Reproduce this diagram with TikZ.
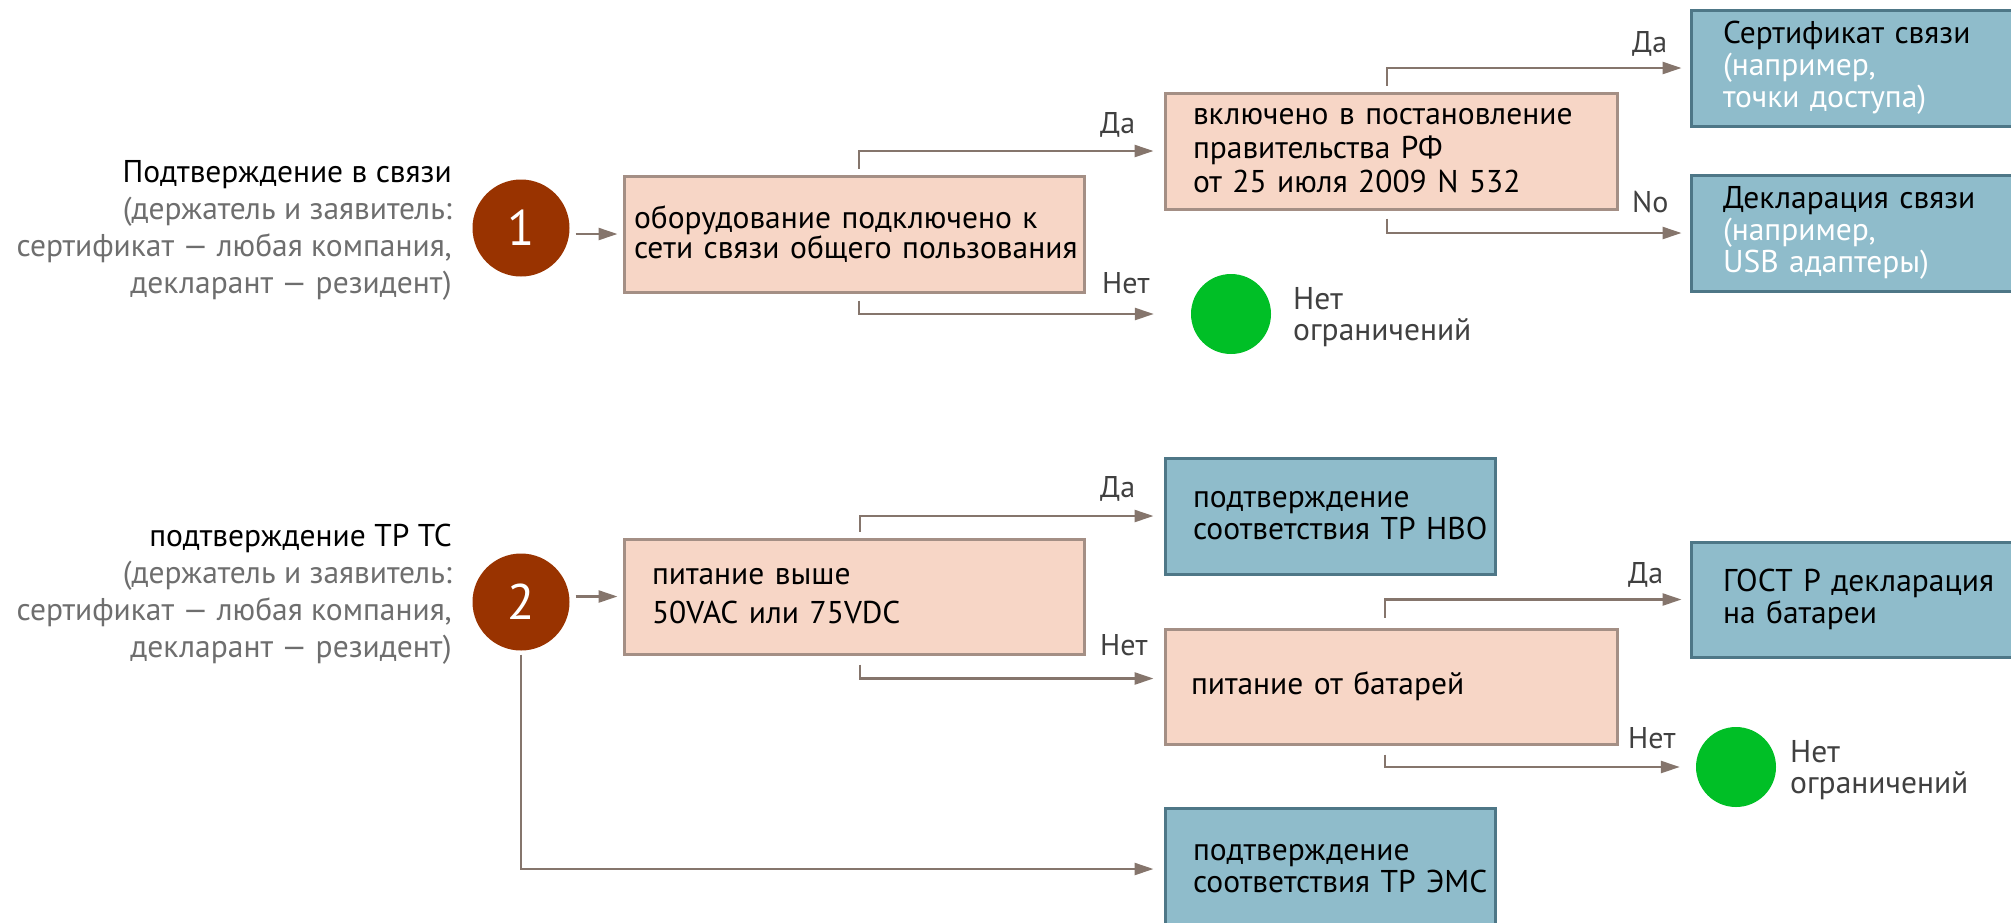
\documentclass[tikz,border=0pt]{standalone}
\usepackage{fontspec}
\setmainfont{PT Sans}
\usepackage{tikz}
\usetikzlibrary{arrows.meta,positioning}
\definecolor{boxfill}{HTML}{F7D6C6}
\definecolor{boxline}{HTML}{A48F85}
\definecolor{bluefill}{HTML}{8FBCCB}
\definecolor{blueline}{HTML}{4E7787}
\definecolor{darkred}{HTML}{993300}
\definecolor{okgreen}{HTML}{00BF26}
\definecolor{arrowgray}{HTML}{85756C}
\definecolor{notegray}{HTML}{6E6E6E}
\definecolor{labelgray}{HTML}{404040}

\begin{document}
\begin{tikzpicture}[
  x=1pt, y=-1pt,
  every node/.style={inner sep=0pt},
  note/.style={anchor=east, align=right, text=notegray, font=\fontsize{31.5}{37}\selectfont},
  num/.style={circle, fill=darkred, minimum size=97pt, text=white, font=\fontsize{50}{50}\selectfont},
  ok/.style={circle, fill=okgreen, minimum size=80pt},
  okcap/.style={anchor=west, align=left, text=labelgray, font=\fontsize{31.5}{31}\selectfont},
  query/.style={rectangle, draw=boxline, fill=boxfill, line width=3pt, minimum height=116pt, align=left, font=\fontsize{31.5}{32}\selectfont},
  result/.style={rectangle, draw=blueline, fill=bluefill, line width=3pt, minimum height=116pt, align=left, font=\fontsize{31.5}{32}\selectfont},
  answer/.style={anchor=base west, text=labelgray, font=\fontsize{30}{30}\selectfont},
  arrow/.style={-{Triangle[length=19pt,width=12pt]}, line width=2.5pt, draw=arrowgray, shorten >=10pt}
]
\useasboundingbox (0,0) rectangle (2011,922);
\clip (0,0) rectangle (2011,922);

% Branch 1: communications
\node[note] (src1) at (452,230) {\textcolor{black}{Подтверждение в связи}\\(держатель и заявитель:\\сертификат — любая компания,\\декларант — резидент)};
\node[num] (c1) at (521,228) {1};
\node[query, text width=440pt, inner xsep=10pt, font=\fontsize{31.5}{30}\selectfont] (q1) at (854,234) {оборудование~подключено~к\\сети~связи~общего~пользования};
\node[query, text width=396pt, inner xsep=28pt, font=\fontsize{31.5}{34}\selectfont] (q2) at (1391,151) {включено~в~постановление\\правительства~РФ\\от~25~июля~2009~N~532};
\node[result, text width=296pt, inner xsep=32pt] (cert) at (1871,68) {Сертификат~связи\\\textcolor{white}{(например,}\\\textcolor{white}{точки~доступа)}};
\node[result, text width=296pt, inner xsep=32pt] (decl) at (1871,233) {Декларация~связи\\\textcolor{white}{(например,}\\\textcolor{white}{USB~адаптеры)}};
\node[ok] (free1) at (1231,314) {};
\node[okcap] (free1t) at (1293,317) {Нет\\ограничений};

\draw[arrow, shorten <=6pt, shorten >=5pt] (c1.east |- q1.west) -- (q1.west);
\draw[arrow] ([xshift=5pt,yshift=6pt]q1.north) |- (q2.west);
\draw[arrow, shorten >=37pt] ([xshift=5pt,yshift=-7pt]q1.south) |- (free1.west);
\draw[arrow, shorten >=8pt] ([xshift=-4pt,yshift=6pt]q2.north) |- (cert.west);
\draw[arrow, shorten >=8pt] ([xshift=-4pt,yshift=-8pt]q2.south) |- (decl.west);

\node[answer] (y1) at (1100,133) {Да};
\node[answer] (n1) at (1102,293) {Нет};
\node[answer] (y2) at (1632,52) {Да};
\node[answer] (n2) at (1632,212) {No};

% Branch 2: TR CU
\node[note] (src2) at (452,594) {\textcolor{black}{подтверждение ТР ТС}\\(держатель и заявитель:\\сертификат — любая компания,\\декларант — резидент)};
\node[num] (c2) at (521,602) {2};
\node[query, text width=404pt, inner xsep=28pt, minimum height=115pt, font=\fontsize{31.5}{39}\selectfont] (q3) at (854,596.5) {питание~выше\\50VAC~или~75VDC};
\node[result, text width=274pt, inner xsep=28pt] (lvd) at (1330,516) {подтверждение\\соответствия~ТР~НВО};
\node[query, text width=400pt, inner xsep=26pt, minimum height=115pt] (q4) at (1391,686.5) {питание~от~батарей};
\node[result, text width=296pt, inner xsep=32pt, minimum height=115pt] (gost) at (1871,599.5) {ГОСТ~Р~декларация\\на~батареи};
\node[result, text width=274pt, inner xsep=28pt, minimum height=122pt] (emc) at (1330,869) {подтверждение\\соответствия~ТР~ЭМС};
\node[ok] (free2) at (1736,767) {};
\node[okcap] (free2t) at (1790,770) {Нет\\ограничений};

\draw[arrow, shorten <=6pt, shorten >=5pt] (c2.east |- q3.west) -- (q3.west);
\draw[arrow] ([xshift=6pt,yshift=6pt]q3.north) |- (lvd.west);
\draw[arrow] ([xshift=6pt,yshift=-9pt]q3.south) |- ([yshift=8pt]q4.west);
\draw[arrow, shorten >=8pt] ([xshift=-6pt,yshift=10pt]q4.north) |- (gost.west);
\draw[arrow, shorten >=16pt] ([xshift=-6pt,yshift=-9pt]q4.south) |- (free2.west);
\draw[arrow] ([yshift=-4pt]c2.south) |- (emc.west);

\node[answer] (y3) at (1100,497) {Да};
\node[answer] (n3) at (1100,655) {Нет};
\node[answer] (y4) at (1628,583) {Да};
\node[answer] (n4) at (1628,748) {Нет};

\end{tikzpicture}
\end{document}
